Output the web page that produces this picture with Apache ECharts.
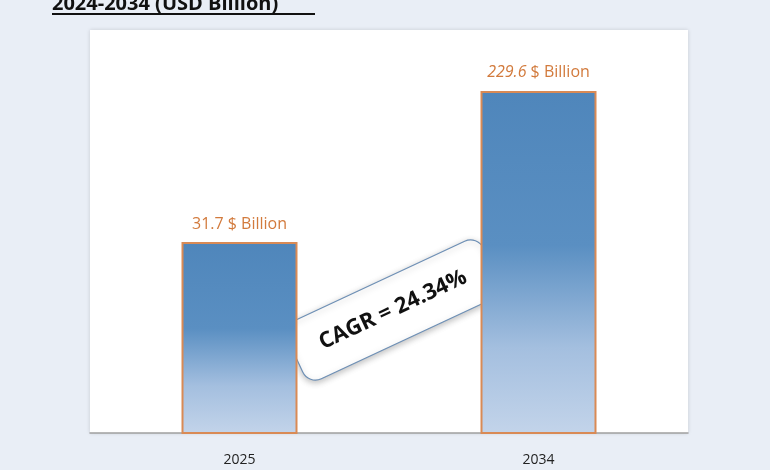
<!DOCTYPE html>
<html><head><meta charset="utf-8">
<script src="https://cdn.jsdelivr.net/npm/echarts@6/dist/echarts.min.js"></script>
<style>html,body{margin:0;padding:0;background:#e9eef6}#c{width:770px;height:470px}</style>
</head><body><div id="c"></div>
<script>
const categories = ['2025', '2034'];
const values = [31.7, 229.6];
const cagrText = 'CAGR = 24.34%';
const titleText = '2024-2034 (USD Billion)';

const chart = echarts.init(document.getElementById('c'));
const grad = new echarts.graphic.LinearGradient(0, 0, 0, 1, [
  {offset: 0, color: '#4f86bb'},
  {offset: 0.45, color: '#5a8fc2'},
  {offset: 0.75, color: '#a4bfdf'},
  {offset: 1, color: '#c3d4ea'}
]);
chart.setOption({
  backgroundColor: '#e9eef6',
  animation: false,
  grid: {left: 90, right: 82, top: 30, bottom: 37, show: true, backgroundColor: '#ffffff', borderWidth: 0,
    shadowColor: 'rgba(0,0,0,0.15)', shadowBlur: 4},
  xAxis: {type: 'category', data: categories,
    axisLine: {lineStyle: {color: '#a0a0a0', width: 1.5}}, axisTick: {show: false},
    axisLabel: {color: '#222', fontSize: 14, fontFamily: 'Open Sans', margin: 20}},
  yAxis: {type: 'log', min: 2.6, max: 510, show: false, splitLine: {show: false}},
  series: [{type: 'bar', data: values, barWidth: 116,
    itemStyle: {color: grad, borderColor: '#d98a55', borderWidth: 2},
    label: {show: true, position: 'top', distance: 10,
      formatter: p => p.dataIndex === 0 ? '{a|' + p.value + ' $ Billion}' : '{i|' + p.value + '}{a| $ Billion}',
      rich: {a: {color: '#d27a3c', fontSize: 16, fontFamily: 'Open Sans'},
             i: {color: '#d27a3c', fontSize: 16, fontStyle: 'italic', fontFamily: 'Open Sans'}}}
  }],
  graphic: [
    {type: 'text', left: 52, top: -6, style: {text: titleText, fontSize: 20, fontWeight: 'bold', fill: '#111', fontFamily: 'Open Sans'}},
    {type: 'line', shape: {x1: 52, y1: 14, x2: 315, y2: 14}, style: {stroke: '#111', lineWidth: 2}},
    {type: 'group', x: 393, y: 310, rotation: 25 * Math.PI / 180, children: [
      {type: 'rect', shape: {x: -108, y: -32, width: 216, height: 64, r: 14},
        style: {fill: '#ffffff', stroke: '#6d8fb5', lineWidth: 1.2, shadowColor: 'rgba(0,0,0,0.25)', shadowBlur: 6, shadowOffsetY: 2}},
      {type: 'text', style: {text: cagrText, x: 0, y: 0, align: 'center', verticalAlign: 'middle', fontSize: 22, fontWeight: 'bold', fill: '#111', fontFamily: 'Open Sans'}}
    ]}
  ]
});
</script></body></html>
